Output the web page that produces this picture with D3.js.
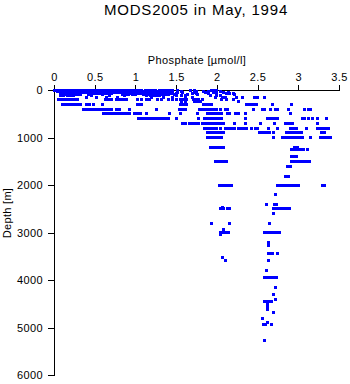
<!DOCTYPE html>
<html>
<head>
<meta charset="utf-8">
<script src="https://cdn.jsdelivr.net/npm/d3@7/dist/d3.min.js"></script>
<style>
  html, body { margin: 0; padding: 0; background: #fff; }
  svg { display: block; }
  text { font-family: "Liberation Sans", Arial, Helvetica, sans-serif; fill: #000; }
</style>
</head>
<body>
<svg id="chart" width="350" height="384"></svg>
<script>
// Phosphate profiles from the MODS2005 archive, May 1994.
// Each depth level (m) has the phosphate values (µmol/l) observed there.
const depthLevels = [
  0, 10, 20, 30, 50, 75, 100, 125, 150, 200, 250, 300, 400, 500, 600, 700, 800, 900,
  1000, 1200, 1250, 1400, 1500, 1600, 1820, 2000, 2020, 2210, 2410, 2470, 2490, 2610,
  2800, 2930, 2990, 3050, 3210, 3270, 3450, 3520, 3580, 3810, 3950, 4150, 4300, 4400,
  4450, 4500, 4560, 4620, 4680, 4800, 4900, 4930, 5280
];

const phosphateAtLevel = [
  // 0 m
  [0.00,0.03,0.06,0.09,0.12,0.15,0.18,0.21,0.24,0.27,0.30,0.33,0.36,0.39,0.42,0.45,0.48,0.51,0.54,0.57,0.60,0.63,0.66,0.69,0.72,0.75,0.78,0.81,0.84,0.87,0.90,0.96,1.00,1.04,1.17,1.21,1.25,1.29,1.38,1.97,2.00],
  // 10 m
  [0.01,0.04,0.07,0.10,0.13,0.16,0.19,0.22,0.25,0.28,0.31,0.34,0.37,0.40,0.43,0.46,0.49,0.52,0.55,0.58,0.61,0.64,0.67,0.70,0.73,0.76,0.79,0.82,0.85,0.88,0.91,0.94,0.97,1.00,1.03,1.06,1.12,1.24,1.33,1.42,1.52,1.72,1.98],
  // 20 m
  [0.02,0.05,0.08,0.11,0.14,0.17,0.20,0.23,0.26,0.29,0.32,0.35,0.38,0.41,0.44,0.47,0.50,0.53,0.56,0.59,0.62,0.65,0.68,0.71,0.74,0.88,0.92,0.96,1.00,1.04,1.08,1.12,1.16,1.20,1.30,1.34,1.38,1.42,1.46,1.68,1.93,2.00],
  // 30 m
  [0.04,0.07,0.10,0.13,0.16,0.19,0.22,0.25,0.28,0.31,0.34,0.37,0.40,0.43,0.46,0.49,0.52,0.55,0.58,0.62,0.78,0.82,0.86,0.90,0.94,0.98,1.02,1.06,1.10,1.14,1.18,1.22,1.26,1.30,1.44,1.56,1.75,1.84,1.90,2.04],
  // 50 m
  [0.08,0.11,0.14,0.17,0.20,0.23,0.26,0.29,0.32,0.35,0.38,0.41,0.44,0.54,0.57,0.60,0.63,0.66,0.69,0.72,0.75,0.78,0.81,0.84,0.95,0.98,1.01,1.04,1.07,1.10,1.13,1.16,1.19,1.22,1.25,1.28,1.31,1.34,1.38,1.42,1.52,1.58,1.74,1.86,1.96,2.00,2.08,2.14],
  // 75 m
  [0.10,0.13,0.16,0.19,0.22,0.25,0.28,0.46,0.49,0.52,0.55,0.58,0.61,0.64,0.67,0.70,0.90,0.93,0.96,0.99,1.02,1.05,1.08,1.11,1.14,1.17,1.20,1.23,1.26,1.30,1.38,1.42,1.46,1.50,1.70,1.75,1.90,1.99,2.12,2.16,2.20],
  // 100 m
  [0.14,0.17,0.20,0.23,0.26,0.29,0.32,0.42,0.60,0.84,0.88,0.92,0.96,1.00,1.10,1.13,1.16,1.19,1.22,1.25,1.28,1.31,1.34,1.37,1.40,1.48,1.64,1.76,2.00,2.22],
  // 125 m
  [0.08,0.12,0.16,0.20,0.24,0.46,0.68,0.86,1.14,1.18,1.22,1.26,1.30,1.34,1.50,1.56,1.62,1.92,2.00,2.05],
  // 150 m
  [0.40,0.52,0.64,0.78,1.20,1.34,1.46,1.62,1.70,1.98,2.07,2.10,2.24,2.32,2.46,2.50,2.59],
  // 200 m
  [0.05,0.08,0.11,0.14,0.17,0.20,0.23,0.26,0.29,0.63,0.67,0.71,0.77,0.80,0.83,0.86,0.89,1.03,1.07,1.13,1.17,1.27,1.32,1.40,1.45,1.51,1.55,1.59,1.63,1.71,1.74,1.78,1.82,2.06,2.12,2.20],
  // 250 m
  [1.56,1.62,1.72,1.76,1.80,2.27],
  // 300 m
  [0.11,0.14,0.17,0.20,0.23,0.26,0.29,0.32,0.40,0.44,0.48,0.59,1.02,1.05,1.08,1.55,1.59,1.63,1.83,1.87,1.91,1.94,2.37,2.40,2.44,2.47,2.49,2.68,2.92],
  // 400 m
  [0.36,0.39,0.42,0.45,0.48,0.51,0.54,0.57,0.59,0.63,0.67,0.71,0.77,0.81,0.93,1.26,1.54,1.58,1.61,1.79,1.82,1.85,1.88,1.91,1.94,1.97,2.00,2.04,2.10,2.13,2.45,2.56,2.59,2.66,2.72,2.75,2.88,3.08,3.12,3.15],
  // 500 m
  [0.61,0.64,0.67,0.70,0.73,0.76,0.79,0.82,0.85,0.88,0.91,0.93,0.99,1.03,1.06,1.14,1.42,1.55,1.76,1.88,1.91,1.94,1.97,2.00,2.03,2.06,2.13,2.16,2.23,2.26,2.35,2.91],
  // 600 m
  [1.04,1.07,1.10,1.13,1.16,1.19,1.22,1.25,1.28,1.31,1.34,1.37,1.40,1.51,1.77,1.85,1.88,1.91,1.94,1.97,2.00,2.03,2.06,2.35,2.62,2.65,2.68,2.71,2.74,3.05,3.08,3.12,3.17,3.24,3.35],
  // 700 m
  [1.58,1.62,1.66,1.70,1.74,1.77,1.82,1.85,1.88,1.91,1.94,1.97,2.00,2.03,2.06,2.08,2.22,2.35,2.53,2.71,2.84,2.87,2.90,2.93,3.24],
  // 800 m
  [1.85,1.88,1.91,1.94,1.97,2.00,2.04,2.10,2.13,2.16,2.19,2.22,2.26,2.29,2.33,2.37,2.43,2.47,2.50,2.63,2.74,2.90,2.94,2.98,3.10,3.24,3.27,3.31,3.35,3.37],
  // 900 m
  [1.88,1.91,1.94,1.97,2.00,2.03,2.06,2.08,2.52,2.55,2.59,2.62,2.65,2.69,2.86,2.89,2.92,2.95,2.98,3.01,3.04,3.29,3.32],
  // 1000 m
  [1.88,1.91,1.94,1.97,2.00,2.03,2.06,2.69,2.81,2.84,2.87,2.90,2.93,2.96,2.99,3.02,3.05,3.15,3.27,3.30,3.33,3.36,3.39],
  // 1200 m
  [1.92,1.95,1.98,2.01,2.04,2.08,2.95,2.99],
  // 1250 m
  [2.92,2.95,2.98,3.01,3.04,3.07,3.11],
  // 1400 m
  [2.92,2.95,2.98],
  // 1500 m
  [1.98,2.01,2.04,2.07,2.10,2.12,2.92,2.95,2.98,3.01,3.04,3.07,3.10,3.14],
  // 1600 m
  [2.87,2.90],
  // 1820 m
  [2.84,2.88],
  // 2000 m
  [2.03,2.06,2.09,2.12,2.15,2.18,2.75,2.78,2.82,2.85,2.88,2.91,2.94,2.97,3.00],
  // 2020 m
  [3.30,3.32],
  // 2210 m
  [2.72],
  // 2410 m
  [2.61,2.71,2.73],
  // 2470 m
  [2.07],
  // 2490 m
  [2.04,2.08,2.13,2.16,2.69,2.72,2.75,2.78,2.81,2.84,2.87,2.89],
  // 2610 m
  [2.70],
  // 2800 m
  [1.93,2.16,2.65],
  // 2930 m
  [2.08],
  // 2990 m
  [2.05,2.08,2.11,2.14,2.59,2.62,2.65,2.68,2.71,2.74,2.77],
  // 3050 m
  [2.05],
  // 3210 m
  [2.64],
  // 3270 m
  [2.64],
  // 3450 m
  [2.63,2.66,2.68,2.74],
  // 3520 m
  [2.07],
  // 3580 m
  [2.10,2.63],
  // 3810 m
  [2.61],
  // 3950 m
  [2.59,2.62,2.65,2.68,2.70,2.73],
  // 4150 m
  [2.72],
  // 4300 m
  [2.69],
  // 4400 m
  [2.72],
  // 4450 m
  [2.58,2.61,2.64,2.67],
  // 4500 m
  [2.62],
  // 4560 m
  [2.62],
  // 4620 m
  [2.62],
  // 4680 m
  [2.69],
  // 4800 m
  [2.56],
  // 4900 m
  [2.62],
  // 4930 m
  [2.57,2.60,2.67],
  // 5280 m
  [2.58]
];

const phosphateTicks = [0, 0.5, 1, 1.5, 2, 2.5, 3, 3.5];
const depthTicks = [0, 1000, 2000, 3000, 4000, 5000, 6000];

const titleText = "MODS2005 in May, 1994";
const xLabelText = "Phosphate [\u00b5mol/l]";
const yLabelText = "Depth [m]";

// flatten level/value pairs into points
const points = [];
depthLevels.forEach((d, i) => {
  phosphateAtLevel[i].forEach(p => points.push({ depth: d, phosphate: p }));
});

const svg = d3.select("#chart");
const plot = { left: 54, right: 339, top: 90, bottom: 375 };

const x = d3.scaleLinear().domain([0, 3.5]).range([plot.left, plot.right]);
const y = d3.scaleLinear().domain([0, 6000]).range([plot.top, plot.bottom]);

// title
svg.append("text")
  .attr("x", 196).attr("y", 15)
  .attr("text-anchor", "middle")
  .style("font-size", "15px")
  .style("letter-spacing", "0.8px")
  .text(titleText);

// phosphate axis along the top
const xAxis = d3.axisTop(x)
  .tickValues(phosphateTicks)
  .tickFormat(d3.format("~g"))
  .tickSize(5)
  .tickSizeOuter(0)
  .tickPadding(4);

const gx = svg.append("g")
  .attr("transform", `translate(0,${plot.top})`)
  .call(xAxis);

// depth axis on the left, increasing downward
const yAxis = d3.axisLeft(y)
  .tickValues(depthTicks)
  .tickFormat(d3.format("d"))
  .tickSize(6)
  .tickSizeOuter(0)
  .tickPadding(5);

const gy = svg.append("g")
  .attr("transform", `translate(${plot.left},0)`)
  .call(yAxis);

[gx, gy].forEach(g => {
  g.selectAll("path.domain").attr("stroke", "#000").attr("stroke-width", 1).attr("shape-rendering", "crispEdges");
  g.selectAll(".tick line").attr("stroke", "#000").attr("shape-rendering", "crispEdges");
  g.selectAll(".tick text")
    .style("font-family", "'Liberation Sans', Arial, sans-serif")
    .style("font-size", "11px")
    .style("letter-spacing", "0.4px")
    .attr("fill", "#000");
});

// axis titles
svg.append("text")
  .attr("x", 197).attr("y", 64)
  .attr("text-anchor", "middle")
  .style("font-size", "11px")
  .style("letter-spacing", "0.4px")
  .text(xLabelText);

svg.append("text")
  .attr("transform", "translate(11,213) rotate(-90)")
  .attr("text-anchor", "middle")
  .style("font-size", "11px")
  .style("letter-spacing", "0.3px")
  .text(yLabelText);

// observations
const size = 3;
svg.append("g")
  .attr("fill", "#0000ff")
  .attr("shape-rendering", "crispEdges")
  .selectAll("rect")
  .data(points)
  .join("rect")
  .attr("x", d => x(d.phosphate) - size / 2)
  .attr("y", d => y(d.depth) - size / 2)
  .attr("width", size)
  .attr("height", size);
</script>
</body>
</html>
